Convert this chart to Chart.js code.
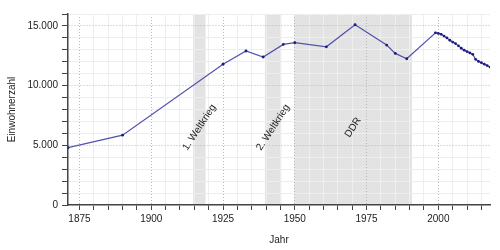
<!DOCTYPE html>
<html lang="de">
<head>
<meta charset="UTF-8">
<title>Einwohnerentwicklung</title>
<script src="https://cdn.jsdelivr.net/npm/chart.js"></script>
<style>
  html, body { margin: 0; padding: 0; background: #fff; }
  #wrap { width: 500px; height: 250px; }
</style>
</head>
<body>
<div id="wrap"><canvas id="popChart" width="500" height="250"></canvas></div>
<script>
// Einwohnerzahlen
const years = [1871, 1890, 1925, 1933, 1939, 1946, 1950, 1961, 1971, 1982, 1985, 1989,
  1999, 2000, 2001, 2002, 2003, 2004, 2005, 2006, 2007, 2008, 2009, 2010,
  2011, 2012, 2013, 2014, 2015, 2016, 2017, 2018];
const population = [4800, 5850, 11800, 12900, 12400, 13450, 13600, 13250, 15100, 13400, 12700, 12250,
  14420, 14370, 14300, 14150, 14000, 13800, 13650, 13520, 13330, 13130, 12970, 12850,
  12740, 12620, 12200, 12030, 11920, 11800, 11680, 11550];

// Zeitabschnitte (grau hinterlegt)
const periodLabels = ['1. Weltkrieg', '2. Weltkrieg', 'DDR'];
const periodStart = [1914.6, 1939.6, 1949.8];
const periodEnd = [1918.9, 1945.3, 1990.8];

const FONT = { family: 'Liberation Sans, Arial, sans-serif', size: 10 };

// shaded periods under the grid, labels on top of it
const periodPlugin = {
  id: 'periods',
  beforeDraw(chart) {
    const { ctx, chartArea, scales } = chart;
    ctx.save();
    ctx.fillStyle = '#e3e3e3';
    periodLabels.forEach((label, i) => {
      const x0 = scales.x.getPixelForValue(periodStart[i]);
      const x1 = scales.x.getPixelForValue(periodEnd[i]);
      ctx.fillRect(x0, chartArea.top, x1 - x0, chartArea.bottom - chartArea.top);
    });
    ctx.restore();
  },
  beforeDatasetsDraw(chart) {
    const { ctx, scales } = chart;
    ctx.save();
    ctx.fillStyle = '#222';
    ctx.font = FONT.size + 'px ' + FONT.family;
    ctx.textAlign = 'center';
    ctx.textBaseline = 'middle';
    periodLabels.forEach((label, i) => {
      const cx = scales.x.getPixelForValue((periodStart[i] + periodEnd[i]) / 2);
      const cy = scales.y.getPixelForValue(6500);
      ctx.save();
      ctx.translate(cx, cy);
      ctx.rotate(-57 * Math.PI / 180);
      ctx.fillText(label, 0, 0);
      ctx.restore();
    });
    ctx.restore();
  }
};

const majorX = v => v % 25 === 0;
const majorY = v => v % 5000 === 0;

new Chart(document.getElementById('popChart'), {
  type: 'line',
  data: {
    datasets: [{
      data: years.map((y, i) => ({ x: y, y: population[i] })),
      borderColor: '#5252ad',
      borderWidth: 1.2,
      pointRadius: 1.4,
      pointBackgroundColor: '#1a1a80',
      pointBorderWidth: 0,
      tension: 0
    }]
  },
  options: {
    responsive: false,
    animation: false,
    layout: { autoPadding: false, padding: { top: 14, right: 10, left: 0, bottom: 0 } },
    plugins: { legend: { display: false }, tooltip: { enabled: false } },
    scales: {
      x: {
        type: 'linear',
        min: 1871,
        max: 2018,
        afterFit(s) { s.height = 45; },
        ticks: {
          stepSize: 5,
          includeBounds: false,
          autoSkip: false,
          maxRotation: 0,
          padding: 3,
          color: '#222',
          font: FONT,
          callback: v => majorX(v) ? String(v) : ''
        },
        grid: {
          color: c => c.tick && majorX(c.tick.value) ? '#b8b8b8' : '#eeeeee',
          lineWidth: 1,
          tickLength: 5,
          tickColor: '#444'
        },
        border: {
          color: '#444',
          width: 1.5,
          dash: c => (c.tick && majorX(c.tick.value)) ? [1, 2] : []
        },
        title: { display: true, text: 'Jahr', color: '#222', font: FONT, padding: { top: 4, bottom: 4 } }
      },
      y: {
        min: 0,
        max: 16000,
        afterFit(s) { s.width = 68; },
        ticks: {
          stepSize: 1000,
          autoSkip: false,
          padding: 4,
          color: '#222',
          font: FONT,
          callback: v => majorY(v) ? v.toLocaleString('de-DE') : ''
        },
        grid: {
          color: c => c.tick && majorY(c.tick.value) && c.tick.value > 0 ? '#b8b8b8' : '#eeeeee',
          lineWidth: 1,
          tickLength: 6,
          tickColor: '#444'
        },
        border: {
          color: '#444',
          width: 1.5,
          dash: c => (c.tick && majorY(c.tick.value)) ? [1, 2] : []
        },
        title: { display: true, text: 'Einwohnerzahl', color: '#222', font: FONT, padding: { top: 6, bottom: 4 } }
      }
    }
  },
  plugins: [periodPlugin]
});
</script>
</body>
</html>
